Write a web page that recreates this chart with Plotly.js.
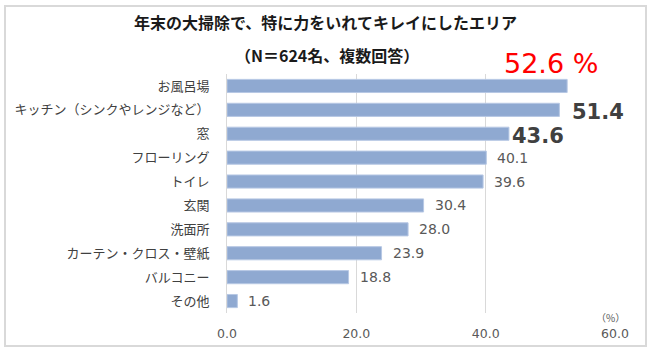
<!DOCTYPE html>
<html>
<head>
<meta charset="utf-8">
<script src="https://cdn.plot.ly/plotly-3.0.1.min.js"></script>
<style>
html,body{margin:0;padding:0;background:#fff;}
#wrap{position:relative;width:650px;height:350px;}
#chart{width:650px;height:350px;}
#frame{position:absolute;left:4px;top:5px;width:639px;height:338px;border:2px solid #D9D9D9;pointer-events:none;}
</style>
</head>
<body>
<div id="wrap"><div id="chart"></div><div id="frame"></div></div>
<script>
const categories = ["お風呂場","キッチン（シンクやレンジなど）","窓","フローリング","トイレ","玄関","洗面所","カーテン・クロス・壁紙","バルコニー","その他"];
const values = [52.6, 51.4, 43.6, 40.1, 39.6, 30.4, 28.0, 23.9, 18.8, 1.6];
const tickVals = [0, 20, 40, 60];
const tickText = ["0.0", "20.0", "40.0", "60.0"];
const titleText = "年末の大掃除で、特に力をいれてキレイにしたエリア";
const subtitleText = "（N＝624名、複数回答）";
const unitText = "（%）";

const numFont = "DejaVu Sans, Verdana, sans-serif";
const jpFont = "Noto Sans CJK JP, sans-serif";

const trace = {
  type: "bar",
  orientation: "h",
  y: categories,
  x: values,
  width: 0.55,
  marker: {color: "#8FA9D1", line: {color: "#B7C8E4", width: 1}},
  hoverinfo: "skip"
};

const annotations = [];
values.forEach((v, i) => {
  if (i === 0) {
    annotations.push({
      x: v, xref: "x", y: 1, yref: "paper", yanchor: "middle", xanchor: "center",
      yshift: 11, xshift: -16,
      text: v.toFixed(1) + " %", showarrow: false,
      font: {family: numFont, size: 27, color: "#FF0000"}
    });
  } else if (i === 1 || i === 2) {
    annotations.push({
      x: v, y: categories[i], xref: "x", yref: "y", xanchor: "left",
      xshift: i === 1 ? 11 : 1, yshift: -2,
      text: "<b>" + v.toFixed(1) + "</b>", showarrow: false,
      font: {family: numFont, size: 21, color: "#404040"}
    });
  } else {
    annotations.push({
      x: v, y: categories[i], xref: "x", yref: "y", xanchor: "left",
      xshift: 9,
      text: v.toFixed(1), showarrow: false,
      font: {family: numFont, size: 14, color: "#595959"}
    });
  }
});
annotations.push({
  text: "<b>" + titleText + "</b>", xref: "paper", yref: "paper",
  x: (325 - 227) / 388, y: (313 - 22) / 239, xanchor: "center", yanchor: "middle",
  showarrow: false, font: {family: jpFont, size: 16, color: "#1A1A1A"}
});
annotations.push({
  text: "<b>" + subtitleText + "</b>", xref: "paper", yref: "paper",
  x: (327 - 227) / 388, y: (313 - 55) / 239, xanchor: "center", yanchor: "middle",
  showarrow: false, font: {family: jpFont, size: 16, color: "#1A1A1A"}
});
annotations.push({
  text: unitText, x: 1, xref: "paper", y: 0, yref: "paper", yanchor: "middle",
  xanchor: "center", xshift: -5, yshift: -4, showarrow: false,
  font: {family: jpFont, size: 10, color: "#595959"}
});

const layout = {
  width: 650, height: 350,
  margin: {l: 227, r: 35, t: 74, b: 37},
  paper_bgcolor: "#fff", plot_bgcolor: "#fff",
  showlegend: false,
  bargap: 0.45,
  xaxis: {
    range: [0, 60], tickvals: tickVals, ticktext: tickText,
    showgrid: true, gridcolor: "#D9D9D9", gridwidth: 1,
    zeroline: false, showline: false, ticks: "",
    tickfont: {family: numFont, size: 12.5, color: "#595959"},
    ticklabelstandoff: 11, fixedrange: true
  },
  yaxis: {
    type: "category", autorange: "reversed",
    showgrid: false, zeroline: false,
    showline: true, linecolor: "#D9D9D9", linewidth: 1,
    ticks: "", ticklabelstandoff: 14,
    tickfont: {family: jpFont, size: 13, color: "#404040"},
    fixedrange: true
  },
  annotations: annotations
};

Plotly.newPlot("chart", [trace], layout, {displayModeBar: false, staticPlot: true});
</script>
</body>
</html>
